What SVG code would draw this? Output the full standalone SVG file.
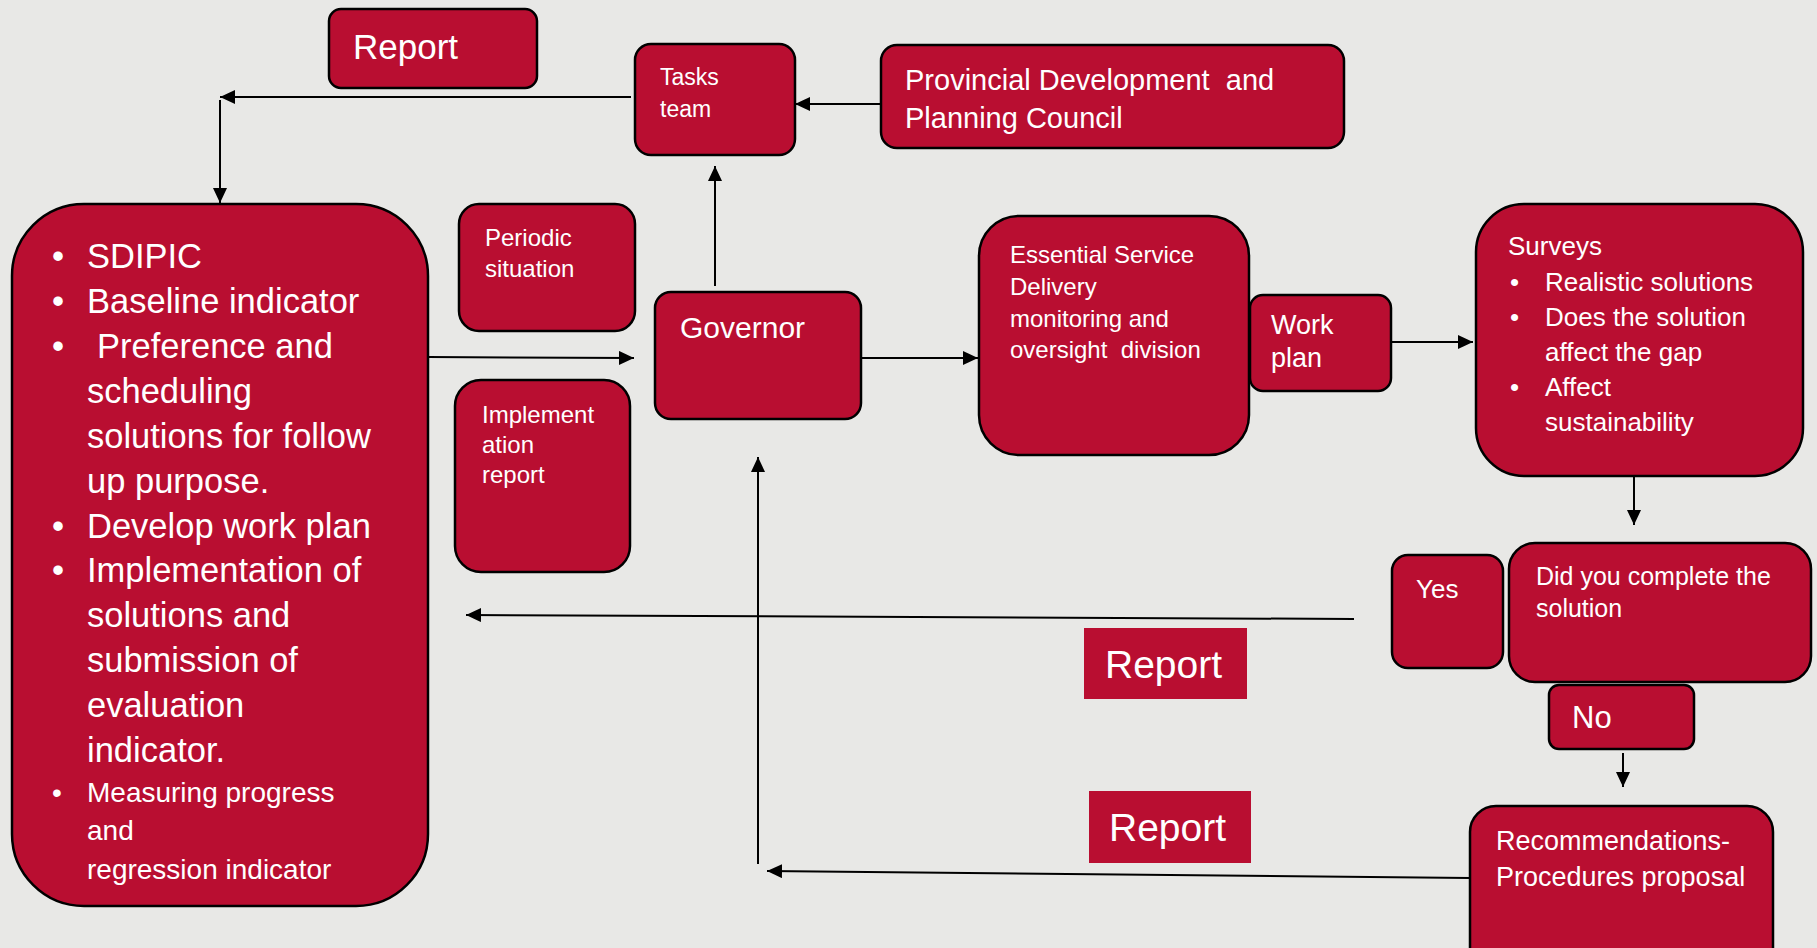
<svg xmlns="http://www.w3.org/2000/svg" width="1817" height="948" viewBox="0 0 1817 948">
<defs>
<marker id="arr" markerUnits="userSpaceOnUse" markerWidth="16" markerHeight="14" refX="15" refY="7" orient="auto">
<path d="M0,0 L15,7 L0,14 z" fill="#000"/>
</marker>
<style>
.box{fill:#B90E31;stroke:#000;stroke-width:2.5}
.flat{fill:#B90E31;stroke:none}
.t{fill:#fff;font-family:"Liberation Sans",Arial,sans-serif}
.c{fill:none;stroke:#000;stroke-width:2;marker-end:url(#arr)}
</style>
</defs>
<rect width="1817" height="948" fill="#E8E8E6"/>
<g id="connectors">
<line class="c" x1="631" y1="97" x2="220" y2="97"/>
<line class="c" x1="220" y1="100" x2="220" y2="203"/>
<line class="c" x1="881" y1="104" x2="795" y2="104"/>
<line class="c" x1="715" y1="286" x2="715" y2="166"/>
<line class="c" x1="428" y1="357" x2="634" y2="358"/>
<line class="c" x1="861" y1="358" x2="978" y2="358"/>
<line class="c" x1="1391" y1="342" x2="1473" y2="342"/>
<line class="c" x1="1634" y1="477" x2="1634" y2="525"/>
<line class="c" x1="1354" y1="619" x2="466" y2="615"/>
<line class="c" x1="1623" y1="753" x2="1623" y2="787"/>
<line class="c" x1="1470" y1="878" x2="767" y2="871"/>
<line class="c" x1="758" y1="864" x2="758" y2="457"/>
</g>
<g id="report-top">
<rect class="box" x="329" y="9" width="208" height="79" rx="12"/>
<text class="t" x="353" y="59" font-size="35">Report</text>
</g>
<g id="tasks-team">
<rect class="box" x="635" y="44" width="160" height="111" rx="16"/>
<text class="t" x="660" y="85" font-size="23">Tasks</text>
<text class="t" x="660" y="117" font-size="23">team</text>
</g>
<g id="provincial">
<rect class="box" x="881" y="45" width="463" height="103" rx="16"/>
<text class="t" x="905" y="90" font-size="29" xml:space="preserve">Provincial Development  and</text>
<text class="t" x="905" y="128" font-size="29">Planning Council</text>
</g>
<g id="periodic">
<rect class="box" x="459" y="204" width="176" height="127" rx="20"/>
<text class="t" x="485" y="246" font-size="24">Periodic</text>
<text class="t" x="485" y="277" font-size="24">situation</text>
</g>
<g id="governor">
<rect class="box" x="655" y="292" width="206" height="127" rx="16"/>
<text class="t" x="680" y="338" font-size="30">Governor</text>
</g>
<g id="implementation">
<rect class="box" x="455" y="380" width="175" height="192" rx="26"/>
<text class="t" x="482" y="423" font-size="24">Implement</text>
<text class="t" x="482" y="453" font-size="24">ation</text>
<text class="t" x="482" y="483" font-size="24">report</text>
</g>
<g id="essential">
<rect class="box" x="979" y="216" width="270" height="239" rx="40"/>
<text class="t" x="1010" y="263" font-size="24">Essential Service</text>
<text class="t" x="1010" y="295" font-size="24">Delivery</text>
<text class="t" x="1010" y="327" font-size="24">monitoring and</text>
<text class="t" x="1010" y="358" font-size="24" xml:space="preserve">oversight  division</text>
</g>
<g id="work-plan">
<rect class="box" x="1250" y="295" width="141" height="96" rx="13"/>
<text class="t" x="1271" y="334" font-size="27">Work</text>
<text class="t" x="1271" y="367" font-size="27">plan</text>
</g>
<g id="surveys">
<rect class="box" x="1476" y="204" width="327" height="272" rx="48"/>
<text class="t" x="1508" y="255" font-size="26">Surveys</text>
<g class="t" font-size="26">
<text x="1510" y="291">•</text><text x="1545" y="291">Realistic solutions</text>
<text x="1510" y="326">•</text><text x="1545" y="326">Does the solution</text>
<text x="1545" y="361">affect the gap</text>
<text x="1510" y="396">•</text><text x="1545" y="396">Affect</text>
<text x="1545" y="431">sustainability</text>
</g>
</g>
<g id="yes">
<rect class="box" x="1392" y="555" width="111" height="113" rx="16"/>
<text class="t" x="1416" y="598" font-size="26">Yes</text>
</g>
<g id="did-you-complete">
<rect class="box" x="1509" y="543" width="302" height="139" rx="26"/>
<text class="t" x="1536" y="585" font-size="25">Did you complete the</text>
<text class="t" x="1536" y="617" font-size="25">solution</text>
</g>
<g id="no">
<rect class="box" x="1549" y="685" width="145" height="64" rx="10"/>
<text class="t" x="1572" y="728" font-size="31">No</text>
</g>
<g id="recommendations">
<rect class="box" x="1470" y="806" width="303" height="170" rx="26"/>
<text class="t" x="1496" y="850" font-size="27">Recommendations-</text>
<text class="t" x="1496" y="886" font-size="27">Procedures proposal</text>
</g>
<g id="report-mid">
<rect class="flat" x="1084" y="628" width="163" height="71"/>
<text class="t" x="1105" y="678" font-size="39">Report</text>
</g>
<g id="report-low">
<rect class="flat" x="1089" y="791" width="162" height="72"/>
<text class="t" x="1109" y="841" font-size="39">Report</text>
</g>
<g id="main-box">
<rect class="box" x="12" y="204" width="416" height="702" rx="72"/>
<g class="t" font-size="34.5">
<text x="52" y="268">•</text><text x="87" y="268">SDIPIC</text>
<text x="52" y="313">•</text><text x="87" y="313">Baseline indicator</text>
<text x="52" y="358">•</text><text x="97" y="358">Preference and</text>
<text x="87" y="403">scheduling</text>
<text x="87" y="448">solutions for follow</text>
<text x="87" y="493">up purpose.</text>
<text x="52" y="538">•</text><text x="87" y="538">Develop work plan</text>
<text x="52" y="582">•</text><text x="87" y="582">Implementation of</text>
<text x="87" y="627">solutions and</text>
<text x="87" y="672">submission of</text>
<text x="87" y="717">evaluation</text>
<text x="87" y="762">indicator.</text>
</g>
<g class="t" font-size="28">
<text x="52" y="802">•</text><text x="87" y="802">Measuring progress</text>
<text x="87" y="840">and</text>
<text x="87" y="879">regression indicator</text>
</g>
</g>
</svg>
